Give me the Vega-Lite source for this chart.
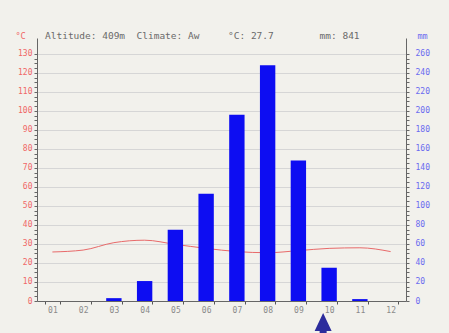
{
  "$schema": "https://vega.github.io/schema/vega-lite/v6.json",
  "width": 369,
  "height": 263,
  "autosize": {"type": "none"},
  "padding": {"left": 37, "top": 38, "right": 43, "bottom": 32},
  "background": "#f2f1ec",
  "config": {"view": {"stroke": null}, "font": "DejaVu Sans Mono", "axis": {"labelOverlap": false}},
  "title": {
    "text": "Altitude: 409m\u00a0\u00a0Climate: Aw\u00a0\u00a0\u00a0\u00a0\u00a0°C: 27.7\u00a0\u00a0\u00a0\u00a0\u00a0\u00a0\u00a0\u00a0mm: 841",
    "anchor": "start",
    "frame": "group",
    "dx": 8,
    "offset": -14,
    "baseline": "middle",
    "fontSize": 9.5,
    "fontWeight": "normal",
    "color": "#6a6a6a",
    "font": "DejaVu Sans Mono"
  },
  "data": {
    "values": [
      {"month": "01", "temp": 25.8, "precip": 0},
      {"month": "02", "temp": 26.8, "precip": 0},
      {"month": "03", "temp": 30.7, "precip": 3},
      {"month": "04", "temp": 32.0, "precip": 21},
      {"month": "05", "temp": 29.8, "precip": 75},
      {"month": "06", "temp": 27.7, "precip": 113},
      {"month": "07", "temp": 26.0, "precip": 196},
      {"month": "08", "temp": 25.4, "precip": 248},
      {"month": "09", "temp": 26.5, "precip": 148},
      {"month": "10", "temp": 27.7, "precip": 35},
      {"month": "11", "temp": 28.0, "precip": 2},
      {"month": "12", "temp": 26.0, "precip": 0}
    ]
  },
  "layer": [
    {
      "mark": {"type": "line", "interpolate": "monotone", "color": "#e86a6a", "strokeWidth": 1},
      "encoding": {
        "x": {
          "field": "month", "type": "ordinal",
          "scale": {"paddingInner": 0.5, "paddingOuter": 0.25},
          "axis": {"title": null, "labelColor": "#8a8a8a", "labelFontSize": 8, "labelAngle": 0, "tickBand": "extent", "tickSize": 3, "tickColor": "#555555", "domainColor": "#666666", "labelPadding": 2}
        },
        "y": {
          "field": "temp", "type": "quantitative",
          "scale": {"domain": [0, 138.4], "nice": false, "zero": true},
          "axis": {
            "orient": "left",
            "title": "°C", "titleAngle": 0, "titleX": -17, "titleY": -3, "titleAlign": "center", "titleBaseline": "middle",
            "titleColor": "#f06666", "titleFontSize": 8.5, "titleFontWeight": "normal", "titleFont": "DejaVu Sans Mono",
            "values": [0,2.5,5,7.5,10,12.5,15,17.5,20,22.5,25,27.5,30,32.5,35,37.5,40,42.5,45,47.5,50,52.5,55,57.5,60,62.5,65,67.5,70,72.5,75,77.5,80,82.5,85,87.5,90,92.5,95,97.5,100,102.5,105,107.5,110,112.5,115,117.5,120,122.5,125,127.5,130],
            "labelExpr": "datum.value % 10 === 0 ? datum.value : ''",
            "labelOverlap": false,
            "labelColor": "#f06666", "labelFontSize": 8, "labelPadding": 2,
            "tickSize": 3, "tickColor": "#666666", "domainColor": "#666666",
            "grid": true, "gridColor": "#d6d6d6",
            "gridOpacity": {"condition": {"test": "datum.value % 10 === 0", "value": 1}, "value": 0}
          }
        }
      }
    },
    {
      "mark": {"type": "bar", "color": "#0d0df2"},
      "encoding": {
        "x": {"field": "month", "type": "ordinal"},
        "y": {
          "field": "precip", "type": "quantitative",
          "scale": {"domain": [0, 276.8], "nice": false, "zero": true},
          "axis": {
            "orient": "right",
            "title": "mm", "titleAngle": 0, "titleX": 16, "titleY": -3, "titleAlign": "center", "titleBaseline": "middle",
            "titleColor": "#6a6af0", "titleFontSize": 8.5, "titleFontWeight": "normal", "titleFont": "DejaVu Sans Mono",
            "values": [0,5,10,15,20,25,30,35,40,45,50,55,60,65,70,75,80,85,90,95,100,105,110,115,120,125,130,135,140,145,150,155,160,165,170,175,180,185,190,195,200,205,210,215,220,225,230,235,240,245,250,255,260],
            "labelExpr": "datum.value % 20 === 0 ? datum.value : ''",
            "labelOverlap": false,
            "labelColor": "#6a6af0", "labelFontSize": 8, "labelPadding": 6,
            "tickSize": 3, "tickColor": "#666666", "domainColor": "#666666",
            "grid": false
          }
        }
      }
    },
    {
      "data": {"values": [{"month": "10", "marker": -23.2}]},
      "mark": {"type": "point", "shape": "M0,-1L0.85,0.8L0.35,0.8L0.35,1.2L-0.35,1.2L-0.35,0.8L-0.85,0.8Z", "filled": true, "size": 400, "color": "#2c2c9c", "opacity": 1, "xOffset": -6},
      "encoding": {
        "x": {"field": "month", "type": "ordinal"},
        "y": {"field": "marker", "type": "quantitative", "scale": {"domain": [0, 276.8], "nice": false, "zero": true}, "axis": null}
      }
    }
  ],
  "resolve": {"scale": {"y": "independent"}}
}
